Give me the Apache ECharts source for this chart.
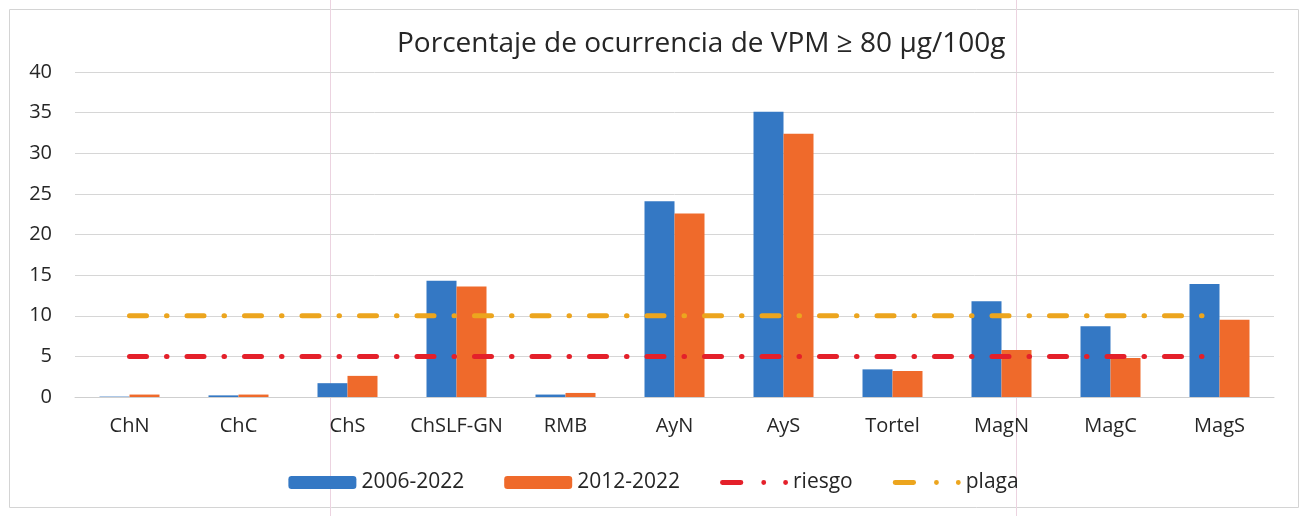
<!DOCTYPE html>
<html>
<head>
<meta charset="utf-8">
<script src="https://cdn.jsdelivr.net/npm/echarts@6/dist/echarts.min.js"></script>
<style>
  html, body { margin: 0; padding: 0; background: #fff; }
  #chart { width: 1307px; height: 516px; }
</style>
</head>
<body>
<div id="chart"></div>
<script>
// zonas
const categories = ['ChN', 'ChC', 'ChS', 'ChSLF-GN', 'RMB', 'AyN', 'AyS', 'Tortel', 'MagN', 'MagC', 'MagS'];
// % de ocurrencia por periodo
const serie2006 = [0.05, 0.2, 1.7, 14.3, 0.3, 24.1, 35.1, 3.4, 11.8, 8.7, 13.9];
const serie2012 = [0.3, 0.3, 2.6, 13.6, 0.5, 22.6, 32.4, 3.2, 5.8, 4.8, 9.5];
// umbrales
const riesgo = [5, 5, 5, 5, 5, 5, 5, 5, 5, 5, 5];
const plaga = [10, 10, 10, 10, 10, 10, 10, 10, 10, 10, 10];
const yTicks = [0, 5, 10, 15, 20, 25, 30, 35, 40];

const font = 'Open Sans';
// icono de leyenda: raya + dos puntos
const dashDotIcon = 'path://M2.5,0 L21.5,0 A2.5,2.5 0 0 1 21.5,5 L2.5,5 A2.5,2.5 0 0 1 2.5,0 Z ' +
    'M42.5,2.5 A2.5,2.5 0 1 0 47.5,2.5 A2.5,2.5 0 1 0 42.5,2.5 Z ' +
    'M65,2.5 A2.5,2.5 0 1 0 70,2.5 A2.5,2.5 0 1 0 65,2.5 Z';

const chart = echarts.init(document.getElementById('chart'));

const option = {
    animation: false,
    textStyle: { fontFamily: font, color: '#262626' },
    title: {
        text: 'Porcentaje de ocurrencia de VPM ≥ 80 µg/100g',
        left: 392,
        top: 25,
        textStyle: { fontFamily: font, fontSize: 28, fontWeight: 'normal', color: '#262626' }
    },
    legend: {
        bottom: 18,
        left: 'center',
        itemWidth: 68,
        itemHeight: 13,
        itemGap: 40,
        textStyle: { fontFamily: font, fontSize: 21, color: '#262626' },
        data: [
            { name: '2006-2022', icon: 'roundRect' },
            { name: '2012-2022', icon: 'roundRect' },
            { name: 'riesgo', icon: dashDotIcon },
            { name: 'plaga', icon: dashDotIcon }
        ]
    },
    grid: { left: 75, right: 33, top: 72, bottom: 119 },
    xAxis: {
        type: 'category',
        data: categories,
        axisLine: { lineStyle: { color: '#cfcfcf' } },
        axisTick: { show: false },
        axisLabel: { fontFamily: font, fontSize: 20, color: '#262626', margin: 19, interval: 0 }
    },
    yAxis: {
        type: 'value',
        min: yTicks[0],
        max: yTicks[yTicks.length - 1],
        interval: 5,
        axisLine: { show: false },
        axisTick: { show: false },
        splitLine: { lineStyle: { color: '#d6d6d6' } },
        axisLabel: { fontFamily: font, fontSize: 20, color: '#262626', margin: 23 }
    },
    series: [
        {
            name: '2006-2022', type: 'bar', data: serie2006,
            barWidth: 30, barGap: '0%',
            itemStyle: { color: '#3478c4' }
        },
        {
            name: '2012-2022', type: 'bar', data: serie2012,
            barWidth: 30,
            itemStyle: { color: '#ef6a2b' }
        },
        {
            name: 'riesgo', type: 'line', data: riesgo,
            symbol: 'none', z: 3,
            itemStyle: { color: '#e4202a' },
            lineStyle: { color: '#e4202a', width: 5, type: [17, 20, 0.5, 20], cap: 'round' }
        },
        {
            name: 'plaga', type: 'line', data: plaga,
            symbol: 'none', z: 3,
            itemStyle: { color: '#eca51e' },
            lineStyle: { color: '#eca51e', width: 5, type: [17, 20, 0.5, 20], cap: 'round' }
        }
    ],
    graphic: [
        { type: 'rect', shape: { x: 9.5, y: 9.5, width: 1289, height: 498 }, style: { fill: 'none', stroke: '#d4d4d4', lineWidth: 1 }, silent: true },
        { type: 'line', shape: { x1: 330.5, y1: 0, x2: 330.5, y2: 516 }, style: { stroke: '#ecd3e0', lineWidth: 1 }, silent: true },
        { type: 'line', shape: { x1: 1016.5, y1: 0, x2: 1016.5, y2: 516 }, style: { stroke: '#ecd3e0', lineWidth: 1 }, silent: true }
    ]
};
chart.setOption(option);
</script>
</body>
</html>
